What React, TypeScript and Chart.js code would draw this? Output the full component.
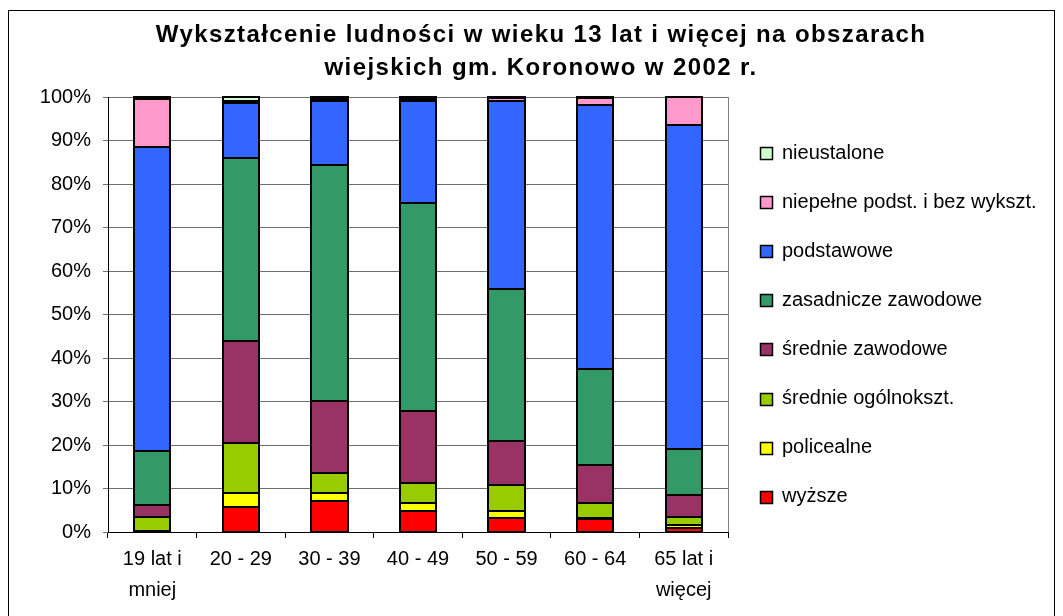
import React, { useEffect, useRef } from "react";
import { Chart, registerables } from "chart.js";

Chart.register(...registerables);

const titleLines = [
  "Wykształcenie ludności w wieku 13 lat i więcej na obszarach",
  "wiejskich gm. Koronowo w 2002 r.",
];

const categories: (string | string[])[] = [
  ["19 lat i", "mniej"],
  "20 - 29",
  "30 - 39",
  "40 - 49",
  "50 - 59",
  "60 - 64",
  ["65 lat i", "więcej"],
];

const seriesNames = [
  "wyższe",
  "policealne",
  "średnie ogólnokszt.",
  "średnie zawodowe",
  "zasadnicze zawodowe",
  "podstawowe",
  "niepełne podst. i bez wykszt.",
  "nieustalone",
];

const seriesColors = [
  "#FF0000",
  "#FFFF00",
  "#99CC00",
  "#993366",
  "#339966",
  "#3366FF",
  "#FF99CC",
  "#CCFFCC",
];

const wyzsze = [0, 5.8, 7.1, 4.8, 3.3, 3.0, 1.0];
const policealne = [0.2, 3.2, 1.9, 1.9, 1.5, 0.3, 0.5];
const srednieOgolne = [3.3, 11.5, 4.6, 4.6, 6.0, 3.3, 1.9];
const srednieZawodowe = [2.7, 23.4, 16.5, 16.5, 10.1, 8.8, 5.1];
const zasadniczeZawodowe = [12.4, 42.1, 54.3, 47.8, 35.0, 22.1, 10.6];
const podstawowe = [69.9, 12.6, 14.7, 23.5, 43.2, 60.7, 74.5];
const niepelne = [11.0, 0.5, 0.5, 0.5, 0.7, 1.6, 6.4];
const nieustalone = [0.5, 0.9, 0.4, 0.4, 0.2, 0.2, 0];

const seriesValues = [
  wyzsze,
  policealne,
  srednieOgolne,
  srednieZawodowe,
  zasadniczeZawodowe,
  podstawowe,
  niepelne,
  nieustalone,
];

const yTickMin = 0;
const yTickMax = 100;
const yTickStep = 10;

const FONT = "'Liberation Sans', Arial, sans-serif";

const CANVAS_W = 1047;
const CANVAS_H = 608;

const outlinePlugin = {
  id: "barOutline",
  afterDatasetsDraw(chart: any) {
    const ctx = chart.ctx;
    ctx.save();
    ctx.strokeStyle = "#000000";
    ctx.lineWidth = 2;
    chart.data.datasets.forEach((_d: any, di: number) => {
      const meta = chart.getDatasetMeta(di);
      meta.data.forEach((el: any, idx: number) => {
        const v = chart.data.datasets[di].data[idx];
        if (!v) return;
        const p = el.getProps(["x", "y", "base", "width"], true);
        const left = Math.round(p.x - p.width / 2);
        const right = Math.round(p.x + p.width / 2);
        const top = Math.round(Math.min(p.y, p.base));
        const bottom = Math.round(Math.max(p.y, p.base));
        ctx.strokeRect(left, top, right - left, bottom - top);
      });
    });
    ctx.restore();
  },
};

const decorPlugin = {
  id: "decor",
  beforeDraw(chart: any) {
    const ctx = chart.ctx;
    ctx.save();
    ctx.fillStyle = "#ffffff";
    ctx.fillRect(0, 0, chart.width, chart.height);
    ctx.restore();
  },
  afterDraw(chart: any) {
    const ctx = chart.ctx;
    const area = chart.chartArea;
    ctx.save();
    // outer frame
    ctx.strokeStyle = "#000000";
    ctx.lineWidth = 1;
    ctx.strokeRect(0.5, 2.5, chart.width - 1, chart.height + 20);
    // plot right border
    ctx.strokeStyle = "#808080";
    ctx.beginPath();
    ctx.moveTo(Math.round(area.right) + 0.5, area.top);
    ctx.lineTo(Math.round(area.right) + 0.5, area.bottom);
    ctx.stroke();

    // title
    ctx.fillStyle = "#000000";
    ctx.font = `bold 24px ${FONT}`;
    ctx.textAlign = "center";
    ctx.textBaseline = "middle";
    try {
      (ctx as any).letterSpacing = "1.4px";
    } catch (e) {}
    titleLines.forEach((line, i) => {
      ctx.fillText(line, 533, 27 + i * 33);
    });
    try {
      (ctx as any).letterSpacing = "0px";
    } catch (e) {}

    // legend
    ctx.font = `20px ${FONT}`;
    ctx.textAlign = "left";
    ctx.textBaseline = "middle";
    const ds = chart.data.datasets.slice().reverse();
    ds.forEach((d: any, i: number) => {
      const cy = 145 + i * 49.1;
      ctx.fillStyle = d.backgroundColor;
      ctx.fillRect(752.5, Math.round(cy - 6) + 0.5, 12, 12);
      ctx.strokeStyle = "#000000";
      ctx.lineWidth = 1.5;
      ctx.strokeRect(752.5, Math.round(cy - 6) + 0.5, 12, 12);
      ctx.fillStyle = "#000000";
      ctx.fillText(d.label, 774, cy);
    });
    ctx.restore();
  },
};

export default function App() {
  const canvasRef = useRef<HTMLCanvasElement | null>(null);

  useEffect(() => {
    if (!canvasRef.current) return;
    const chart = new Chart(canvasRef.current, {
      type: "bar",
      data: {
        labels: categories as any,
        datasets: seriesNames.map((name, i) => ({
          label: name,
          data: seriesValues[i],
          backgroundColor: seriesColors[i],
          borderWidth: 0,
          categoryPercentage: 1,
          barPercentage: 0.41,
        })),
      },
      options: {
        animation: false,
        responsive: false,
        devicePixelRatio: 1,
        layout: {
          padding: { top: 89, right: CANVAS_W - 720, left: 0, bottom: 0 },
        },
        plugins: {
          legend: { display: false },
          title: { display: false },
          tooltip: { enabled: false },
        },
        scales: {
          x: {
            stacked: true,
            afterFit(scale: any) {
              scale.height = CANVAS_H - 524;
            },
            grid: {
              display: true,
              drawOnChartArea: false,
              drawTicks: true,
              tickLength: 6,
              color: "#000000",
              offset: true,
            },
            border: { display: true, color: "#000000", width: 1 },
            ticks: {
              color: "#000000",
              font: { family: FONT, size: 20, lineHeight: 1.55 },
              maxRotation: 0,
              autoSkip: false,
              padding: 6,
            },
          },
          y: {
            stacked: true,
            min: yTickMin,
            max: yTickMax,
            afterFit(scale: any) {
              scale.width = 100;
            },
            grid: {
              color: "#6e6e6e",
              lineWidth: 1,
              drawTicks: true,
              tickLength: 5,
            },
            border: { display: true, color: "#000000", width: 1 },
            ticks: {
              stepSize: yTickStep,
              color: "#000000",
              font: { family: FONT, size: 20 },
              padding: 12,
              callback: (v: any) => `${v}%`,
            },
          },
        },
      },
      plugins: [outlinePlugin, decorPlugin],
    });
    return () => chart.destroy();
  }, []);

  return (
    <canvas
      ref={canvasRef}
      width={CANVAS_W}
      height={CANVAS_H}
      style={{ display: "block", width: CANVAS_W, height: CANVAS_H }}
    />
  );
}
